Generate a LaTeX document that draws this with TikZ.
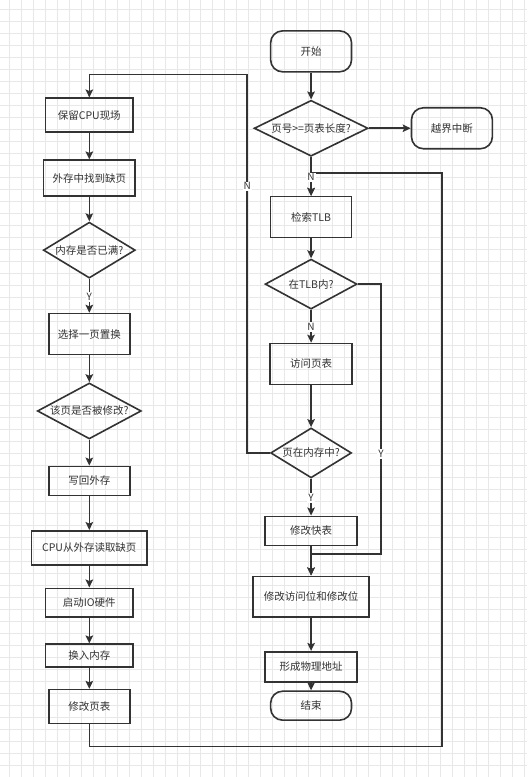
\documentclass[tikz,border=0pt]{standalone}
\usepackage{fontspec}
\setmainfont{Noto Sans CJK SC}
\usetikzlibrary{arrows.meta,shapes.geometric}
\definecolor{flowline}{HTML}{333333}
\definecolor{gridgray}{HTML}{E8E8E8}

\begin{document}
\begin{tikzpicture}[x=1pt,y=-1pt,>={Stealth[length=8pt,width=7.5pt,inset=1.5pt]},line width=1.6pt,
  every node/.style={text=flowline,font=\fontsize{10.5}{12}\selectfont},
  box/.style={draw=flowline,rectangle,inner sep=0pt},
  term/.style={draw=flowline,rectangle,rounded corners=12pt,inner sep=0pt},
  test/.style={draw=flowline,diamond,inner sep=0pt},
  flow/.style={->,draw=flowline},
  mark node/.style={fill=white,inner sep=1pt,font=\fontsize{10}{12}\selectfont}]
            \fill[white] (0,0) rectangle (527,777);
            \foreach \gx in {8.7,20.7,...,525} \draw[gridgray,line width=0.8pt] (\gx,0) -- (\gx,777);
            \foreach \gy in {9.3,21.3,...,775} \draw[gridgray,line width=0.8pt] (0,\gy) -- (527,\gy);

            % right column
            \node[term, minimum width=81, minimum height=41] (start) at (311,51) {开始};
            \node[test, minimum width=114, minimum height=56, aspect=2.04] (range) at (311,128) {页号>=页表长度?};
            \node[term, minimum width=81, minimum height=41] (intr) at (452,128) {越界中断};
            \node[box, minimum width=81, minimum height=41] (tlb) at (311,217) {检索TLB};
            \node[test, minimum width=92, minimum height=50, aspect=1.84] (intlb) at (311,284) {在TLB内?};
            \node[box, minimum width=82, minimum height=41] (visit) at (311,364) {访问页表};
            \node[test, minimum width=81, minimum height=50, aspect=1.62] (inmem) at (311,453) {页在内存中?};
            \node[box, minimum width=92, minimum height=29] (fast) at (311,531) {修改快表};
            \node[box, minimum width=116, minimum height=41] (bits) at (311,597) {修改访问位和修改位};
            \node[box, minimum width=92, minimum height=30] (phys) at (311,667) {形成物理地址};
            \node[term, minimum width=81, minimum height=29] (end) at (311,706) {结束};

            % left column
            \node[box, minimum width=88, minimum height=34] (save) at (89,115) {保留CPU现场};
            \node[box, minimum width=92, minimum height=36] (find) at (89,178) {外存中找到缺页};
            \node[test, minimum width=92, minimum height=56, aspect=1.64] (full) at (89,250) {内存是否已满?};
            \node[box, minimum width=81, minimum height=41] (pick) at (89,334) {选择一页置换};
            \node[test, minimum width=104, minimum height=56, aspect=1.86] (dirty) at (89,411) {该页是否被修改?};
            \node[box, minimum width=81, minimum height=29] (back) at (89,481) {写回外存};
            \node[box, minimum width=116, minimum height=34] (read) at (89,548) {CPU从外存读取缺页};
            \node[box, minimum width=88, minimum height=29] (io) at (89,603) {启动IO硬件};
            \node[box, minimum width=88, minimum height=23] (swap) at (89,656) {换入内存};
            \node[box, minimum width=81, minimum height=34] (table) at (89,707) {修改页表};

            \coordinate (ycorner) at (381,554);
            \coordinate (ncorner) at (247,74);
            \coordinate (lowleft) at (442,747);
            \coordinate (upright) at (442,173);

            \path[flow]
                (start) edge (range)
                (range) edge (intr)
                (range) edge (tlb)
                (tlb) edge (intlb)
                (intlb) edge (visit)
                (visit) edge (inmem)
                (inmem) edge (fast)
                (fast) edge (bits)
                (bits) edge (phys)
                (phys) edge (end)
                (save) edge (find)
                (find) edge (full)
                (full) edge (pick)
                (pick) edge (dirty)
                (dirty) edge (back)
                (back) edge (read)
                (read) edge (io)
                (io) edge (swap)
                (swap) edge (table);
            \draw[flow] (intlb.east) -| (ycorner) -| (bits.north);
            \draw[flow] (inmem.west) -| (ncorner) -| (save.north);
            \draw[flow] (table.south) |- (lowleft) -- (upright) -| (tlb.north);

            \node[mark node] (n1) at (311,177) {N};
            \node[mark node] (n2) at (311,327) {N};
            \node[mark node] (y1) at (311,498) {Y};
            \node[mark node] (y2) at (381,454) {Y};
            \node[mark node] (n3) at (247,186) {N};
            \node[mark node] (y3) at (89,297) {Y};
        \end{tikzpicture}
\end{document}
